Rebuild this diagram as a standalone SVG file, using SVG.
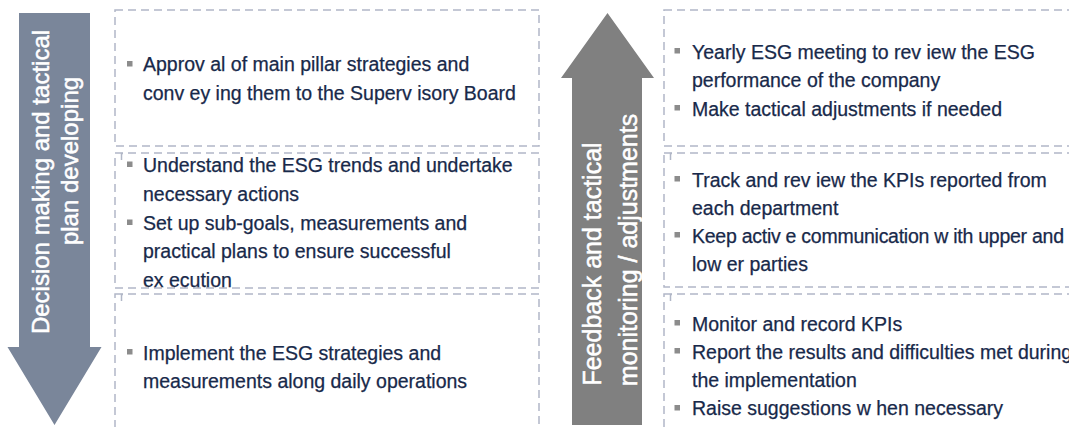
<svg xmlns="http://www.w3.org/2000/svg" width="1069" height="427" viewBox="0 0 1069 427">
<style>
.box{fill:none;stroke:#b1b7c7;stroke-width:1.5;stroke-dasharray:8 5}
.t{font-family:"Liberation Sans",Arial,sans-serif;font-size:19.5px;fill:#18294a;stroke:#18294a;stroke-width:0.25}
.b{fill:#8c8c8c}
.at{font-family:"Liberation Sans",Arial,sans-serif;fill:#ffffff;stroke:#ffffff;stroke-width:0.5;text-anchor:middle}
</style>
<rect width="1069" height="427" fill="#ffffff"/>
<g id="arrow-left">
<polygon points="19,13 90,13 90,347 101.5,347 54.5,425 7.5,347 19,347" fill="#7a869a"/>
<text class="at" font-size="24" transform="translate(49,182) rotate(-90)">Decision making and tactical</text>
<text class="at" font-size="24" transform="translate(77.5,161) rotate(-90)">plan developing</text>
</g>
<g id="arrow-right">
<polygon points="607.5,13 654,78 642,78 642,425 572,425 572,78 561,78" fill="#808080"/>
<text class="at" font-size="25" transform="translate(601,264) rotate(-90)">Feedback and tactical</text>
<text class="at" font-size="25" transform="translate(637,250) rotate(-90)">monitoring / adjustments</text>
</g>
<g id="left-box-1">
<rect class="box" x="115" y="10" width="424" height="136"/>
<rect class="b" x="127" y="61" width="5.5" height="5.5"/>
<text class="t" x="143" y="71">Approv al of main pillar strategies and</text>
<text class="t" x="143" y="99.5">conv ey ing them to the Superv isory Board</text>
</g>
<g id="left-box-2">
<rect class="box" x="115" y="153" width="424" height="135"/>
<path class="box" d="M121.5,160 V153.5 H128"/>
<rect class="b" x="127" y="161.5" width="5.5" height="5.5"/>
<text class="t" x="143" y="172.3">Understand the ESG trends and undertake</text>
<text class="t" x="143" y="200.8">necessary actions</text>
<rect class="b" x="127" y="219.5" width="5.5" height="5.5"/>
<text class="t" x="143" y="230">Set up sub-goals, measurements and</text>
<text class="t" x="143" y="258.4">practical plans to ensure successful</text>
<text class="t" x="143" y="286.8">ex ecution</text>
</g>
<g id="left-box-3">
<rect class="box" x="115" y="294" width="424" height="150"/>
<path class="box" d="M121.5,301 V294.5 H128"/>
<rect class="b" x="127" y="349" width="5.5" height="5.5"/>
<text class="t" x="143" y="359.5">Implement the ESG strategies and</text>
<text class="t" x="143" y="388">measurements along daily operations</text>
</g>
<g id="right-box-1">
<rect class="box" x="664" y="10" width="430" height="136"/>
<rect class="b" x="674.5" y="48" width="5.5" height="5.5"/>
<text class="t" x="692" y="58.5">Yearly ESG meeting to rev iew the ESG</text>
<text class="t" x="692" y="87">performance of the company</text>
<rect class="b" x="674.5" y="105" width="5.5" height="5.5"/>
<text class="t" x="692" y="115.5">Make tactical adjustments if needed</text>
</g>
<g id="right-box-2">
<rect class="box" x="664" y="153" width="430" height="134"/>
<path class="box" d="M670.5,160 V153.5 H677"/>
<rect class="b" x="674.5" y="176" width="5.5" height="5.5"/>
<text class="t" x="692" y="186.5">Track and rev iew the KPIs reported from</text>
<text class="t" x="692" y="214.5">each department</text>
<rect class="b" x="674.5" y="232" width="5.5" height="5.5"/>
<text class="t" x="692" y="242.5" textLength="372" lengthAdjust="spacing">Keep activ e communication w ith upper and</text>
<text class="t" x="692" y="270.5">low er parties</text>
</g>
<g id="right-box-3">
<rect class="box" x="664" y="294" width="430" height="150"/>
<path class="box" d="M670.5,301 V294.5 H677"/>
<rect class="b" x="674.5" y="320" width="5.5" height="5.5"/>
<text class="t" x="692" y="330.5">Monitor and record KPIs</text>
<rect class="b" x="674.5" y="348" width="5.5" height="5.5"/>
<text class="t" x="692" y="358.5">Report the results and difficulties met during</text>
<text class="t" x="692" y="386.8">the implementation</text>
<rect class="b" x="674.5" y="405" width="5.5" height="5.5"/>
<text class="t" x="692" y="415">Raise suggestions w hen necessary</text>
</g>
<g id="connectors"></g>
</svg>
